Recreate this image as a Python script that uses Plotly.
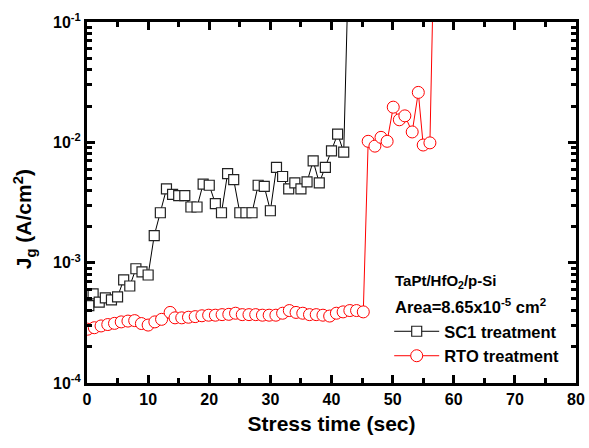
import plotly.graph_objects as go

# ---- data ----
sc1_t = [0.3, 1, 2, 3, 4, 5, 6, 7, 8, 9, 10, 11, 12, 13, 14, 15, 16, 17, 18, 19, 20,
         21, 22, 23, 24, 25, 26, 27, 28, 29, 30, 31, 32, 33, 34, 35, 36, 37, 38, 39,
         40, 41, 42, 43]
sc1_j = [0.00044, 0.00055, 0.00047, 0.00051, 0.00049, 0.00052, 0.00072, 0.00064,
         0.00089, 0.00084, 0.00079, 0.00168, 0.0026, 0.0041, 0.0037, 0.0036, 0.0036,
         0.0029, 0.0029, 0.0045, 0.0044, 0.0031, 0.0026, 0.0055, 0.0049, 0.0026,
         0.0026, 0.0026, 0.0044, 0.0043, 0.0027, 0.0062, 0.0052, 0.0041, 0.0046,
         0.0041, 0.0047, 0.0070, 0.0046, 0.0062, 0.0085, 0.0117, 0.0083, 0.8]

rto_t = [0.1, 1.2, 2.3, 3.4, 4.5, 5.6, 6.7, 7.8, 8.9, 10.0, 11.1, 12.2, 13.6, 14.4,
         15.5, 16.6, 17.7, 18.8, 19.9, 21.0, 22.1, 23.2, 24.3, 25.4, 26.5, 27.6,
         28.7, 29.8, 30.9, 32.0, 33.1, 34.2, 35.3, 36.4, 37.5, 38.6, 39.7, 40.8,
         41.9, 43.0, 44.1, 45.2,
         46.0, 47.1, 48.1, 49.1, 50.1, 51.1, 52.0, 53.2, 54.2, 55.0, 56.1, 57.0]
rto_j = [0.000280, 0.000288, 0.000298, 0.000306, 0.000313, 0.000322, 0.000327,
         0.000330, 0.000312, 0.000303, 0.000322, 0.000338, 0.000386, 0.000348,
         0.000348, 0.000352, 0.000356, 0.000362, 0.000366, 0.000366, 0.000370,
         0.000372, 0.00038, 0.00037, 0.00037, 0.00037, 0.000366, 0.000366,
         0.000366, 0.00038, 0.00040, 0.000386, 0.00038, 0.00037, 0.00037,
         0.000366, 0.00036, 0.00038, 0.00039, 0.00040, 0.00040, 0.00039,
         0.0102, 0.0093, 0.0110, 0.0102, 0.0196, 0.0154, 0.0166, 0.0122, 0.026,
         0.0095, 0.0099, 1.5]

x_ticks = [0, 10, 20, 30, 40, 50, 60, 70, 80]
y_ticks = [1e-4, 1e-3, 1e-2, 1e-1]
y_tick_text = ["10<sup>-4</sup>", "10<sup>-3</sup>", "10<sup>-2</sup>", "10<sup>-1</sup>"]
y_minor = [m * d for d in (1e-4, 1e-3, 1e-2) for m in range(2, 10)]
x_minor = [5, 15, 25, 35, 45, 55, 65, 75]

FONT = "Liberation Sans, Arial, sans-serif"

fig = go.Figure()
fig.add_trace(go.Scatter(
    x=sc1_t, y=sc1_j, mode="lines+markers", name="SC1 treatment",
    line=dict(color="black", width=1),
    marker=dict(symbol="square", size=10, color="white",
                line=dict(color="#222222", width=1.2)),
))
fig.add_trace(go.Scatter(
    x=rto_t, y=rto_j, mode="lines+markers", name="RTO treatment",
    line=dict(color="#ff0000", width=1),
    marker=dict(symbol="circle", size=12, color="white",
                line=dict(color="#ff0000", width=1)),
))

axis_common = dict(
    showline=True, linewidth=3, linecolor="black", mirror="ticks",
    ticks="inside", ticklen=8, tickwidth=3, tickcolor="black",
    showgrid=False, zeroline=False, automargin=False,
    tickfont=dict(family=FONT, size=16, color="black", weight="bold"),
)

fig.update_xaxes(
    range=[0, 80], tickmode="array", tickvals=x_ticks,
    minor=dict(tickmode="array", tickvals=x_minor, ticks="inside",
               ticklen=5, tickwidth=3, tickcolor="black"),
    title=dict(text="Stress time (sec)", standoff=10,
               font=dict(family=FONT, size=21, color="black", weight="bold")),
    **axis_common,
)
fig.update_yaxes(
    type="log", range=[-4, -1], tickmode="array", tickvals=y_ticks,
    ticktext=y_tick_text,
    minor=dict(tickmode="array", tickvals=y_minor, ticks="inside",
               ticklen=5, tickwidth=3, tickcolor="black"),
    **axis_common,
)

# y-axis title (placed as rotated annotation to match vertical position)
fig.add_annotation(xref="paper", yref="paper", x=-0.128, y=0.455,
                   xanchor="center", yanchor="middle", showarrow=False,
                   textangle=-90,
                   text="J<sub>g</sub> (A/cm<sup>2</sup>)",
                   font=dict(family=FONT, size=21, color="black", weight="bold"))

fig.add_annotation(xref="paper", yref="paper", x=0.626, y=0.28,
                   xanchor="left", yanchor="middle", showarrow=False,
                   text="TaPt/HfO<sub>2</sub>/p-Si",
                   font=dict(family=FONT, size=15, color="black", weight="bold"))
fig.add_annotation(xref="paper", yref="paper", x=0.626, y=0.212,
                   xanchor="left", yanchor="middle", showarrow=False,
                   text="Area=8.65x10<sup>-5</sup> cm<sup>2</sup>",
                   font=dict(family=FONT, size=16.5, color="black", weight="bold"))

fig.update_layout(
    width=589, height=448,
    margin=dict(l=87, r=13, t=22, b=65),
    paper_bgcolor="white", plot_bgcolor="white",
    showlegend=True,
    legend=dict(x=0.618, y=0.191, xanchor="left", yanchor="top",
                bgcolor="rgba(0,0,0,0)", borderwidth=0,
                font=dict(family=FONT, size=16.5, color="black", weight="bold"),
                tracegroupgap=0, itemwidth=45),
)

fig.write_html("out.html")
